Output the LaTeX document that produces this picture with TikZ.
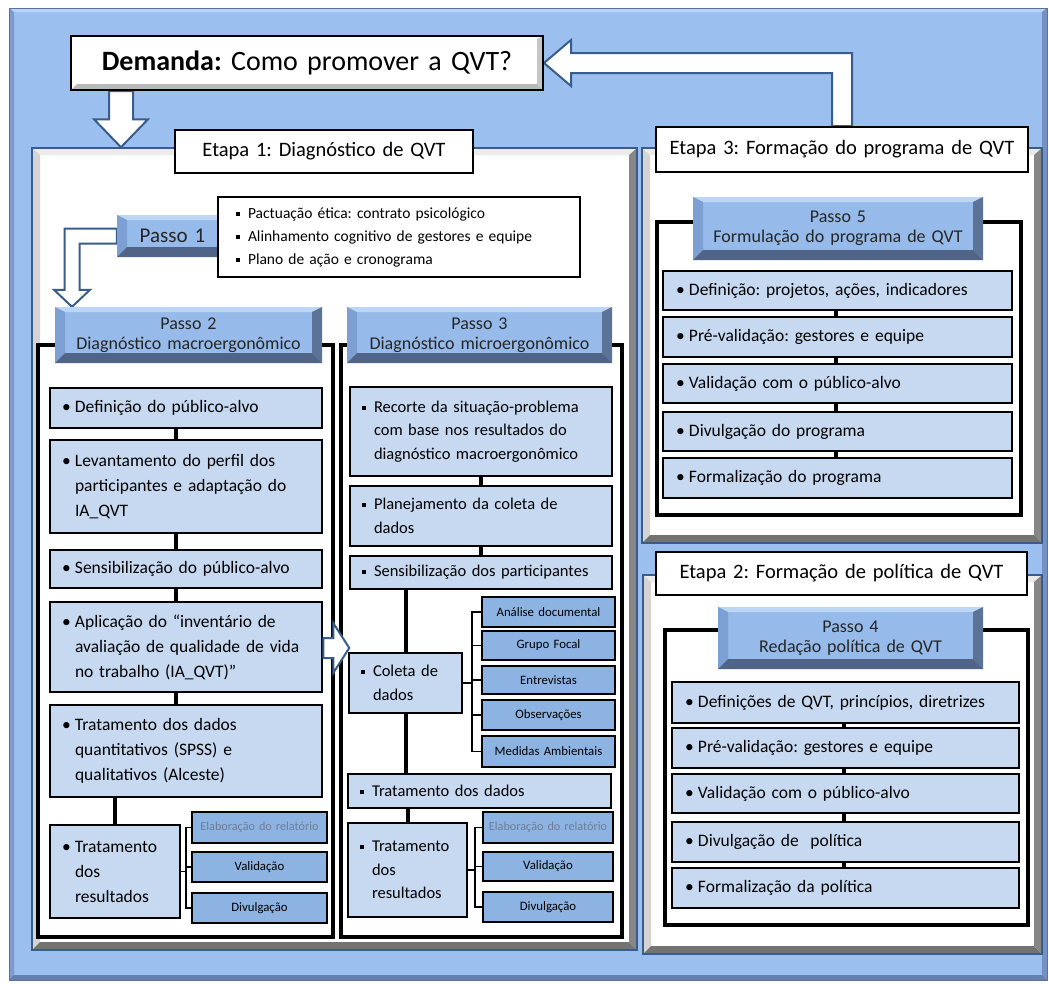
\documentclass[tikz,border=0pt]{standalone}
\usepackage{fontspec}
\setmainfont{Carlito}
\usetikzlibrary{calc}
\pgfdeclarelayer{background}
\pgfdeclarelayer{mid}
\pgfsetlayers{background,mid,main}
\definecolor{bgblue}{RGB}{155,191,238}
\definecolor{bgtop}{RGB}{185,212,246}
\definecolor{bgleft}{RGB}{125,155,205}
\definecolor{bgright}{RGB}{115,145,195}
\definecolor{bgbot}{RGB}{100,128,175}
\definecolor{frameblue}{RGB}{56,93,138}
\definecolor{itemfill}{RGB}{198,217,241}
\definecolor{subfill}{RGB}{141,179,226}
\definecolor{headface}{RGB}{150,186,233}
\definecolor{headtop}{RGB}{190,214,245}
\definecolor{headleft}{RGB}{125,160,210}
\definecolor{headright}{RGB}{90,115,150}
\definecolor{headbot}{RGB}{80,100,135}
\definecolor{greytop}{RGB}{235,235,235}
\definecolor{greyleft}{RGB}{212,212,212}
\definecolor{greyright}{RGB}{135,135,135}
\definecolor{greybot}{RGB}{115,115,115}
\definecolor{fadedtext}{RGB}{110,125,150}
\newcommand\fDem{\fontsize{28}{30}\selectfont}
\newcommand\fEt{\fontsize{20.5}{24}\selectfont}
\newcommand\fHead{\fontsize{18}{20}\selectfont}
\newcommand\fPone{\fontsize{21}{24}\selectfont}
\newcommand\fBul{\fontsize{15.5}{23}\selectfont}
\newcommand\fItem{\fontsize{17.5}{25}\selectfont}
\newcommand\fMid{\fontsize{16.5}{23.5}\selectfont}
\newcommand\fRight{\fontsize{17.5}{24}\selectfont}
\newcommand\fSub{\fontsize{12.8}{14}\selectfont}
\newcommand\rdb{\makebox[13pt][l]{•}}
\newcommand\sqb{\makebox[12pt][l]{\raisebox{2.5pt}{\rule{4pt}{4pt}}}}
\newcommand\ind{\hspace*{13pt}}
\newcommand\indm{\hspace*{12pt}}
\newcommand\bx[8]{%
 \pgfmathsetmacro\bxw{#5-#3}\pgfmathsetmacro\bxh{#6-#4}%
 \pgfmathsetmacro\bxcx{(#3+#5)/2}\pgfmathsetmacro\bxcy{(#4+#6)/2}%
 \pgfmathsetmacro\bxtw{#5-#3-2*#7}%
 \node[#1,minimum width=\bxw pt,minimum height=\bxh pt,text width=\bxtw pt,inner xsep=#7pt,inner ysep=0pt] (#2) at (\bxcx,\bxcy) {#8};}
\tikzset{
 bevel/.style n args={6}{path picture={
  \path (path picture bounding box.north west) coordinate (bvNW)
        (path picture bounding box.north east) coordinate (bvNE)
        (path picture bounding box.south west) coordinate (bvSW)
        (path picture bounding box.south east) coordinate (bvSE);
  \fill[#1] (bvNW) -- (bvNE) -- ([shift={(-#5,-#6)}]bvNE) -- ([shift={(#5,-#6)}]bvNW) -- cycle;
  \fill[#2] (bvNW) -- ([shift={(#5,-#6)}]bvNW) -- ([shift={(#5,#5)}]bvSW) -- (bvSW) -- cycle;
  \fill[#3] (bvNE) -- (bvSE) -- ([shift={(-#5,#5)}]bvSE) -- ([shift={(-#5,-#6)}]bvNE) -- cycle;
  \fill[#4] (bvSW) -- (bvSE) -- ([shift={(-#5,#5)}]bvSE) -- ([shift={(#5,#5)}]bvSW) -- cycle;
 }},
 bgbox/.style={draw={rgb,255:red,90;green,115;blue,150}, line width=1pt, fill=bgblue, bevel={bgtop}{bgleft}{bgright}{bgbot}{5pt}{4pt}},
 etframe/.style={draw=frameblue, line width=1.5pt, fill=white, bevel={greytop}{greyleft}{greyright}{greybot}{8pt}{7pt}},
 dembox/.style={draw=black, line width=2pt, fill=white, bevel={white}{white}{gray!45}{gray!55}{6pt}{3pt}, align=center, font=\fDem},
 etlabel/.style={draw=black, line width=2pt, fill=white, align=center, font=\fEt},
 head/.style={fill=headface, bevel={headtop}{headleft}{headright}{headbot}{10pt}{5pt}, align=center, font=\fHead, text=black!85},
 bulbox/.style={draw=black, line width=2pt, fill=white, align=left, font=\fBul, execute at begin node={\parindent=0pt}},
 colframe/.style={draw=black, line width=3.5pt, fill=white},
 item/.style={draw=black, line width=2.7pt, fill=itemfill, align=left, font=\fItem, execute at begin node={\parindent=0pt}},
 mitem/.style={item, font=\fMid},
 ritem/.style={item, font=\fRight},
 subbox/.style={draw=black, line width=1.8pt, fill=subfill, align=center, font=\fSub},
 conn/.style={line width=4pt, black},
 brk/.style={line width=1.3pt, black, line cap=rect},
 blockarrow/.style={fill=white, draw=frameblue, line width=2pt, line join=miter},
}
\begin{document}
\frenchspacing
\begin{tikzpicture}[x=1pt,y=-1pt]
\useasboundingbox (0,0) rectangle (1049,983);
\begin{pgfonlayer}{background}
\fill[white] (0,0) rectangle (1049,983);
\bx{bgbox}{bg}{9}{8}{1047}{980}{0}{}
\bx{etframe}{et1}{32}{148}{637}{950}{0}{}
\bx{etframe}{et3}{642}{148}{1042}{543}{0}{}
\bx{etframe}{et2}{643}{575}{1042}{954}{0}{}
\end{pgfonlayer}
% top boxes
\bx{dembox}{dem}{71}{36}{543}{90}{0}{\textbf{Demanda:} Como promover a QVT?}
\bx{etlabel}{et1lab}{175}{130}{473}{173}{0}{Etapa 1: Diagnóstico de QVT}
\bx{etlabel}{et3lab}{656}{127}{1028}{172}{0}{Etapa 3: Formação do programa de QVT}
\bx{etlabel}{et2lab}{656}{552}{1027}{595}{0}{Etapa 2: Formação de política de QVT}
% passo 1
\bx{head,font=\fPone}{p1}{117}{215}{228}{257}{0}{Passo 1}
\bx{bulbox}{p1b}{218}{197}{580}{277}{18}{\sqb Pactuação ética: contrato psicológico\\\sqb Alinhamento cognitivo de gestores e equipe\\\sqb Plano de ação e cronograma}
% column frames
\bx{colframe}{c2}{38}{345}{333}{937}{0}{}
\bx{colframe}{c3}{341}{345}{622}{937}{0}{}
\bx{colframe}{c5}{657}{222}{1021}{515}{0}{}
\bx{colframe}{c4}{665}{630}{1028}{925}{0}{}
% headers
\bx{head}{p2}{55}{307}{322}{363}{0}{Passo 2\\Diagnóstico macroergonômico}
\bx{head}{p3}{347}{307}{612}{363}{0}{Passo 3\\Diagnóstico microergonômico}
\bx{head}{p5}{693}{197}{983}{260}{0}{Passo 5\\Formulação do programa de QVT}
\bx{head}{p4}{718}{607}{983}{669}{0}{Passo 4\\Redação política de QVT}
% left column
\bx{item}{l1}{50}{388}{322}{428}{12}{\rdb Definição do público-alvo}
\bx{item}{l2}{50}{440}{322}{533}{12}{\rdb Levantamento do perfil dos\\\ind participantes e adaptação do\\\ind IA\_QVT}
\bx{item}{l3}{50}{550}{322}{588}{12}{\rdb Sensibilização do público-alvo}
\bx{item}{l4}{50}{602}{322}{692}{12}{\rdb Aplicação do “inventário de\\\ind avaliação de qualidade de vida\\\ind no trabalho (IA\_QVT)”}
\bx{item}{l5}{50}{705}{322}{797}{12}{\rdb Tratamento dos dados\\\ind quantitativos (SPSS) e\\\ind qualitativos (Alceste)}
\bx{item}{l6}{50}{825}{180}{918}{12}{\rdb Tratamento\\\ind dos\\\ind resultados}
\bx{subbox,text=fadedtext,font=\fontsize{12.2}{14}\selectfont}{ls1}{192}{812}{327}{843}{2}{Elaboração do relatório}
\bx{subbox}{ls2}{192}{852}{327}{882}{2}{Validação}
\bx{subbox}{ls3}{192}{893}{327}{923}{2}{Divulgação}
% middle column
\bx{mitem}{m1}{350}{387}{612}{476}{12}{\sqb Recorte da situação-problema\\\indm com base nos resultados do\\\indm diagnóstico macroergonômico}
\bx{mitem}{m2}{350}{486}{612}{546}{12}{\sqb Planejamento da coleta de\\\indm dados}
\bx{mitem}{m3}{350}{556}{612}{589}{12}{\sqb Sensibilização dos participantes}
\bx{mitem}{m4}{349}{653}{462}{713}{12}{\sqb Coleta de\\\indm dados}
\bx{subbox}{ms1}{482}{597}{615}{627}{2}{Análise documental}
\bx{subbox}{ms2}{482}{631}{615}{660}{2}{Grupo Focal}
\bx{subbox}{ms3}{482}{666}{615}{694}{2}{Entrevistas}
\bx{subbox}{ms4}{482}{700}{615}{730}{2}{Observações}
\bx{subbox}{ms5}{482}{736}{615}{767}{2}{Medidas Ambientais}
\bx{mitem}{m5}{348}{774}{611}{808}{12}{\sqb Tratamento dos dados}
\bx{mitem}{m6}{348}{823}{467}{917}{12}{\sqb Tratamento\\\indm dos\\\indm resultados}
\bx{subbox,text=fadedtext,font=\fontsize{12.2}{14}\selectfont}{mr1}{483}{812}{613}{843}{2}{Elaboração do relatório}
\bx{subbox}{mr2}{483}{852}{613}{881}{2}{Validação}
\bx{subbox}{mr3}{483}{892}{613}{922}{2}{Divulgação}
% right top column
\bx{ritem}{r1}{663}{271}{1012}{310}{13}{\rdb Definição: projetos, ações, indicadores}
\bx{ritem}{r2}{663}{317}{1012}{357}{13}{\rdb Pré-validação: gestores e equipe}
\bx{ritem}{r3}{663}{364}{1012}{403}{13}{\rdb Validação com o público-alvo}
\bx{ritem}{r4}{663}{412}{1012}{451}{13}{\rdb Divulgação do programa}
\bx{ritem}{r5}{663}{458}{1012}{498}{13}{\rdb Formalização do programa}
% right bottom column
\bx{ritem}{q1}{672}{682}{1019}{723}{13}{\rdb Definições de QVT, princípios, diretrizes}
\bx{ritem}{q2}{672}{728}{1019}{768}{13}{\rdb Pré-validação: gestores e equipe}
\bx{ritem}{q3}{672}{774}{1019}{813}{13}{\rdb Validação com o público-alvo}
\bx{ritem}{q4}{672}{822}{1019}{862}{13}{\rdb Divulgação de\ \ política}
\bx{ritem}{q5}{672}{868}{1019}{908}{13}{\rdb Formalização da política}
% connectors
\coordinate (lx) at (176,0);
\foreach \a/\b in {l1/l2,l2/l3,l3/l4,l4/l5} \draw[conn] (\a.south -| lx) -- (\b.north -| lx);
\draw[conn] (l5.south -| l6.north) -- (l6.north);
\draw[conn] (m1.south) -- (m2.north);
\draw[conn] (m2.south) -- (m3.north);
\draw[conn] (m3.south -| m4.north) -- (m4.north);
\draw[conn] (m4.south) -- (m5.north -| m4.south);
\draw[conn] (m5.south -| m6.north) -- (m6.north);
\coordinate (rx) at (836,0);
\foreach \a/\b in {r1/r2,r2/r3,r3/r4,r4/r5} \draw[conn] (\a.south -| rx) -- (\b.north -| rx);
\coordinate (qx) at (844,0);
\foreach \a/\b in {q1/q2,q2/q3,q3/q4,q4/q5} \draw[conn] (\a.south -| qx) -- (\b.north -| qx);
% brackets
\coordinate (lbx) at (186,0);
\draw[brk] (l6.east) -- (l6.east -| lbx);
\draw[brk] (ls1.west -| lbx) -- (ls3.west -| lbx);
\foreach \s in {ls1,ls2,ls3} \draw[brk] (\s.west -| lbx) -- (\s.west);
\coordinate (mbx) at (472,0);
\draw[brk] (m4.east) -- (m4.east -| mbx);
\draw[brk] (ms1.west -| mbx) -- (ms5.west -| mbx);
\foreach \s in {ms1,ms2,ms3,ms4,ms5} \draw[brk] (\s.west -| mbx) -- (\s.west);
\coordinate (mrx) at (475,0);
\draw[brk] (m6.east) -- (m6.east -| mrx);
\draw[brk] (mr1.west -| mrx) -- (mr3.west -| mrx);
\foreach \s in {mr1,mr2,mr3} \draw[brk] (\s.west -| mrx) -- (\s.west);
% block arrows behind boxes
\begin{pgfonlayer}{mid}
\coordinate (ax1) at (121,0);
\coordinate (s1) at (dem.south -| ax1);
\coordinate (t1) at (et1.north -| ax1);
\draw[blockarrow] ([xshift=-12pt]s1) -- ([xshift=12pt]s1) -- ([shift={(12pt,28pt)}]t1) -- ([shift={(27pt,28pt)}]t1) -- (t1) -- ([shift={(-27pt,28pt)}]t1) -- ([shift={(-12pt,28pt)}]t1) -- cycle;
\coordinate (ax2) at (842,0);
\coordinate (b2) at (et3lab.north -| ax2);
\coordinate (c2p) at (ax2 |- dem.east);
\draw[blockarrow] (dem.east) -- ([shift={(27pt,23pt)}]dem.east) -- ([shift={(27pt,10pt)}]dem.east) -- ([shift={(10pt,10pt)}]c2p) -- ([xshift=10pt]b2) -- ([xshift=-10pt]b2) -- ([shift={(-10pt,-10pt)}]c2p) -- ([shift={(27pt,-10pt)}]dem.east) -- ([shift={(27pt,-23pt)}]dem.east) -- cycle;
\coordinate (ax3) at (72,0);
\coordinate (c3p) at (ax3 |- p1.west);
\coordinate (t3) at (p2.north -| ax3);
\draw[blockarrow] ([yshift=7.5pt]p1.west) -- ([shift={(-7.5pt,7.5pt)}]c3p) -- ([shift={(-7.5pt,17pt)}]t3) -- ([shift={(-18pt,17pt)}]t3) -- (t3) -- ([shift={(18pt,17pt)}]t3) -- ([shift={(7.5pt,17pt)}]t3) -- ([shift={(7.5pt,-7.5pt)}]c3p) -- ([yshift=-7.5pt]p1.west) -- cycle;
\end{pgfonlayer}
% arrow from Passo 2 column to Passo 3 column
\coordinate (ay4) at (0,648);
\coordinate (t4b) at (c3.west |- ay4);
\coordinate (t4) at ([xshift=10pt]t4b);
\draw[blockarrow] (t4) -- ([shift={(-16pt,25pt)}]t4) -- ([shift={(-16pt,10pt)}]t4) -- ([shift={(-26pt,10pt)}]t4) -- ([shift={(-26pt,-10pt)}]t4) -- ([shift={(-16pt,-10pt)}]t4) -- ([shift={(-16pt,-25pt)}]t4) -- cycle;
\end{tikzpicture}
\end{document}
